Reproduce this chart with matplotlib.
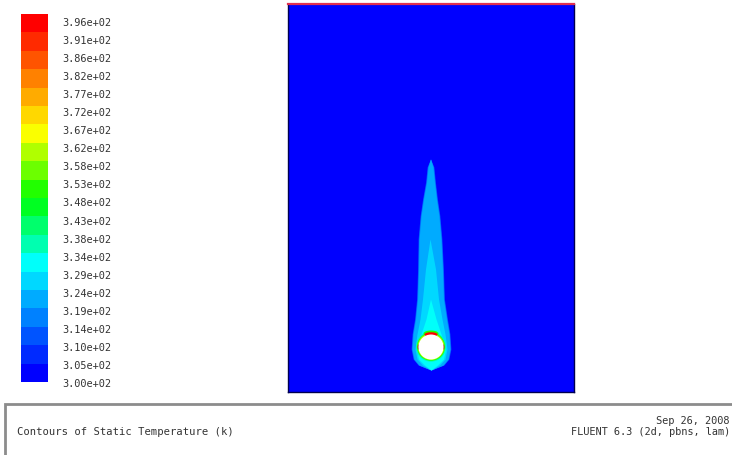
import numpy as np
import matplotlib
matplotlib.use("Agg")
import matplotlib.pyplot as plt
from matplotlib.colors import LinearSegmentedColormap, ListedColormap, BoundaryNorm
from matplotlib.patches import Circle, Ellipse, Rectangle

# ---------------- data ----------------
# contour levels of static temperature (K)
levels = [300.0, 304.8, 309.6, 314.4, 319.2, 324.0, 328.8, 333.6, 338.4, 343.2,
          348.0, 352.8, 357.6, 362.4, 367.2, 372.0, 376.8, 381.6, 386.4, 391.2, 396.0]
level_labels = ["3.00e+02", "3.05e+02", "3.10e+02", "3.14e+02", "3.19e+02", "3.24e+02",
                "3.29e+02", "3.34e+02", "3.38e+02", "3.43e+02", "3.48e+02", "3.53e+02",
                "3.58e+02", "3.62e+02", "3.67e+02", "3.72e+02", "3.77e+02", "3.82e+02",
                "3.86e+02", "3.91e+02", "3.96e+02"]

# domain size (mm) and heated cylinder
domain_w = 286.0
domain_h = 388.0
cyl_x = 143.0
cyl_y = 45.0
cyl_r = 12.5

# plume profile: heights above bottom (mm) and half widths per temperature band
plume_h = [233, 225, 210, 193, 176, 153, 123, 93, 73, 58, 43, 33, 27, 22]
plume_x = [142.5, 142.5, 142.5, 142.0, 142.0, 142.0, 142.5, 142.5, 143.0, 143.0, 143.0, 143.0, 143.0, 143.0]
hw_312 = [0, 3.4, 4.9, 7.4, 9.9, 11.9, 12.9, 13.9, 16.4, 18.9, 19.9, 17.9, 12.9, 0]
hw_317 = [0, 2.9, 4.4, 6.9, 9.4, 11.4, 12.4, 13.4, 15.9, 18.4, 19.4, 17.4, 12.4, 0]
hw_321 = [0, 2.4, 3.9, 6.4, 8.9, 10.9, 11.9, 12.9, 15.4, 17.9, 18.9, 16.9, 11.9, 0]
hw_326 = [0, 0, 0, 0, 0, 0, 5.0, 8.0, 11.0, 14.0, 16.0, 14.0, 8.5, 0]
hw_331 = [0, 0, 0, 0, 0, 0, 0, 0, 5.0, 10.0, 14.5, 12.5, 6.5, 0]
band_temps = [312.0, 317.0, 321.0, 326.0, 331.0]

# rings around the cylinder: radii (mm) and temperatures (K)
ring_r = [15.0, 14.0, 13.3]
ring_t = [338.0, 350.0, 362.0]
cap_t = 393.0
cap_green_t = 352.0

# ---------------- colours ----------------
base = LinearSegmentedColormap.from_list(
    "fluent", [(0.0, "#0000ff"), (0.31, "#00ffff"), (0.5, "#00ff00"), (0.69, "#ffff00"), (1.0, "#ff0000")])
cmap = ListedColormap(base(np.linspace(0, 1, 20)))
norm = BoundaryNorm(levels, cmap.N)

W, H = 732, 456
fig = plt.figure(figsize=(W / 100, H / 100), dpi=100)

def fx(px):
    return px / W

def fy(py):
    return 1 - py / H

# ---------------- contour domain ----------------
ax = fig.add_axes([fx(288), fy(393), (574 - 288) / W, (393 - 5) / H])
ax.set_xlim(0, domain_w)
ax.set_ylim(0, domain_h)
ax.set_facecolor(cmap(norm(300.0)))
ax.set_xticks([])
ax.set_yticks([])
for s in ax.spines.values():
    s.set_color("#000050")
    s.set_linewidth(1.0)
ax.spines["top"].set_color("#e03050")
ax.spines["top"].set_linewidth(1.6)

hx = np.array(plume_x)
hh = np.array(plume_h)
for hw, t in zip([hw_312, hw_317, hw_321, hw_326, hw_331], band_temps):
    hw = np.array(hw)
    ax.fill_betweenx(hh, hx - hw, hx + hw, color=cmap(norm(t)), lw=0)

for r, t in zip(ring_r, ring_t):
    ax.add_patch(Circle((cyl_x, cyl_y + 0.3), r, color=cmap(norm(t)), lw=0))
ax.add_patch(Ellipse((cyl_x, cyl_y + cyl_r + 1.0), 15, 6, color=cmap(norm(cap_green_t)), lw=0))
ax.add_patch(Ellipse((cyl_x, cyl_y + cyl_r), 13, 4.5, color=cmap(norm(cap_t)), lw=0))
ax.add_patch(Ellipse((cyl_x - cyl_r, cyl_y), 2.0, 5, color="#905020", lw=0))
ax.add_patch(Ellipse((cyl_x + cyl_r, cyl_y), 2.0, 5, color="#905020", lw=0))
ax.add_patch(Circle((cyl_x, cyl_y), cyl_r, color="white", lw=0))

# ---------------- colour bar ----------------
ax_cb = fig.add_axes([fx(21), fy(383), 27 / W, (383 - 15) / H])
mids = [(a + b) / 2 for a, b in zip(levels[:-1], levels[1:])]
ax_cb.pcolormesh([0, 1], levels, np.array(mids).reshape(-1, 1), cmap=cmap, norm=norm)
ax_cb.set_xlim(0, 1)
ax_cb.set_ylim(levels[0], levels[-1])
ax_cb.set_xticks([])
ax_cb.set_yticks([])
for s in ax_cb.spines.values():
    s.set_visible(False)

ax_lab = fig.add_axes([fx(21), fy(383), 27 / W, (383 - 22) / H])
ax_lab.set_ylim(levels[0], levels[-1])
ax_lab.patch.set_visible(False)
for s in ax_lab.spines.values():
    s.set_visible(False)
ax_lab.set_xticks([])
ax_lab.yaxis.tick_right()
ax_lab.set_yticks(levels)
ax_lab.set_yticklabels(level_labels, family="DejaVu Sans Mono", fontsize=7.4, color="#333333")
ax_lab.tick_params(axis="y", length=0, pad=10)

# ---------------- title box ----------------
fig.patches.append(Rectangle((fx(5), fy(470)), 1.2, (470 - 405) / H, transform=fig.transFigure,
                             facecolor="white", edgecolor="#8c8c8c", lw=2.0))
fig.text(fx(17), fy(432), "Contours of Static Temperature (k)", family="DejaVu Sans Mono",
         fontsize=7.6, color="#333333", ha="left", va="center")
fig.text(fx(730), fy(421), "Sep 26, 2008", family="DejaVu Sans Mono",
         fontsize=7.4, color="#333333", ha="right", va="center")
fig.text(fx(730), fy(432), "FLUENT 6.3 (2d, pbns, lam)", family="DejaVu Sans Mono",
         fontsize=7.4, color="#333333", ha="right", va="center")

fig.savefig("out.png", dpi=100)
